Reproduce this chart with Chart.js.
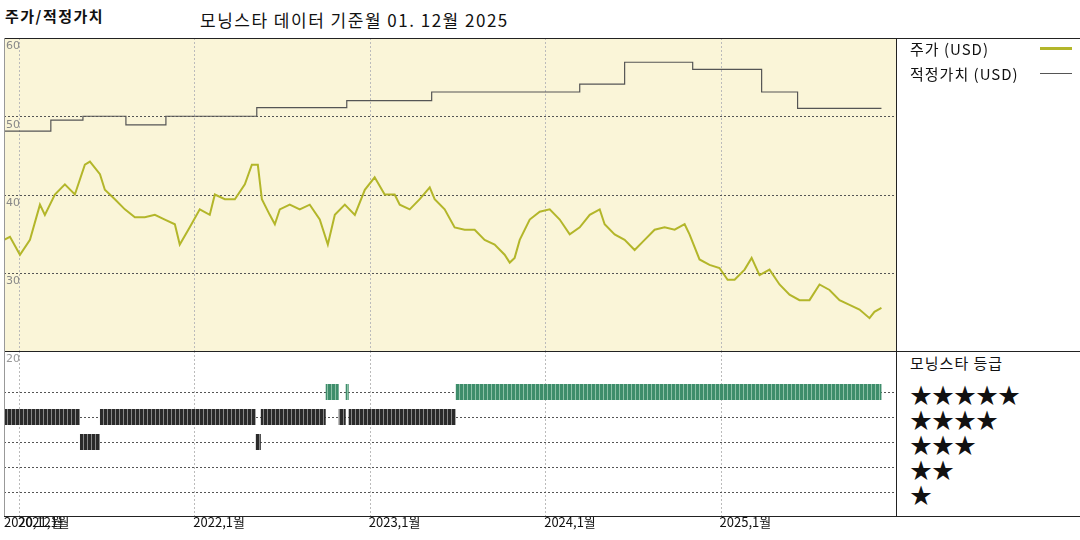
<!DOCTYPE html>
<html><head><meta charset="utf-8">
<script src="https://cdn.jsdelivr.net/npm/chart.js@4"></script>
<style>
body{margin:0;width:1080px;height:540px;background:#fff;position:relative;overflow:hidden;font-family:"Noto Sans CJK KR",sans-serif;}
.t{position:absolute;white-space:nowrap;color:#111;}
#a{position:absolute;left:4px;top:38px;width:892px;height:313px;}
#b{position:absolute;left:4px;top:351px;width:892px;height:189px;}
.ln{position:absolute;background:#222;}
</style></head><body>
<div class="t" style="left:5px;top:5px;font-size:15px;font-weight:bold;letter-spacing:1.5px;">주가/적정가치</div>
<div class="t" style="left:200px;top:7px;font-size:17px;letter-spacing:1.5px;">모닝스타 데이터 기준월 01. 12월 2025</div>
<div id="a"><canvas id="ca"></canvas></div>
<div id="b"><canvas id="cb"></canvas></div>
<div class="ln" style="left:4px;top:38px;width:1076px;height:1px;"></div>
<div class="ln" style="left:4px;top:351px;width:1076px;height:1px;"></div>
<div class="ln" style="left:4px;top:516px;width:1076px;height:1px;"></div>
<div class="ln" style="left:896px;top:38px;width:1px;height:478px;"></div>
<div class="ln" style="left:4px;top:38px;width:1px;height:478px;background:#999"></div>
<div class="t" style="left:910px;top:38px;font-size:15px;letter-spacing:1px;">주가 (USD)</div>
<div class="ln" style="left:1040px;top:47px;width:32px;height:3px;background:#b3b62a"></div>
<div class="t" style="left:910px;top:63px;font-size:15px;letter-spacing:1px;">적정가치 (USD)</div>
<div class="ln" style="left:1040px;top:73px;width:32px;height:1px;background:#555"></div>
<div class="t" style="left:910px;top:352px;font-size:15px;letter-spacing:1px;">모닝스타 등급</div>
<div class="t" style="left:910px;top:377px;font-size:22px;">★★★★★</div>
<div class="t" style="left:910px;top:402px;font-size:22px;">★★★★</div>
<div class="t" style="left:910px;top:427px;font-size:22px;">★★★</div>
<div class="t" style="left:910px;top:452px;font-size:22px;">★★</div>
<div class="t" style="left:910px;top:477px;font-size:22px;">★</div>
<script>
const priceDates=[2020.915,2020.949,2021.006,2021.063,2021.12,2021.148,2021.205,2021.262,2021.319,2021.376,2021.405,2021.462,2021.49,2021.547,2021.604,2021.661,2021.718,2021.775,2021.832,2021.889,2021.917,2021.974,2022.031,2022.088,2022.117,2022.174,2022.231,2022.288,2022.328,2022.362,2022.385,2022.43,2022.459,2022.487,2022.544,2022.601,2022.658,2022.715,2022.761,2022.801,2022.858,2022.915,2022.972,2023.028,2023.085,2023.142,2023.171,2023.228,2023.285,2023.342,2023.37,2023.427,2023.484,2023.541,2023.598,2023.655,2023.712,2023.769,2023.798,2023.826,2023.855,2023.912,2023.969,2024.026,2024.083,2024.14,2024.197,2024.254,2024.311,2024.339,2024.396,2024.453,2024.51,2024.567,2024.624,2024.681,2024.738,2024.795,2024.823,2024.88,2024.937,2024.994,2025.04,2025.08,2025.137,2025.177,2025.222,2025.279,2025.336,2025.393,2025.45,2025.507,2025.564,2025.621,2025.678,2025.735,2025.792,2025.849,2025.877,2025.917];
const priceValues=[34.2,34.6,32.3,34.2,38.7,37.4,40,41.3,40,43.8,44.2,42.6,40.6,39.4,38.1,37.1,37.1,37.4,36.8,36.2,33.6,35.8,38.1,37.4,40,39.4,39.4,41.3,43.8,43.8,39.4,37.4,36.2,38.1,38.7,38.1,38.7,36.8,33.6,37.4,38.7,37.4,40.6,42.2,40,40,38.7,38.1,39.4,40.9,39.4,38.1,35.8,35.5,35.5,34.2,33.6,32.3,31.3,31.9,34.2,36.8,37.8,38.1,36.8,34.9,35.8,37.4,38.1,36.2,34.9,34.2,32.9,34.2,35.5,35.8,35.5,36.2,34.9,31.7,31,30.6,29.1,29.1,30.4,31.9,29.7,30.4,28.5,27.2,26.5,26.5,28.5,27.8,26.5,25.9,25.3,24.2,25,25.5];
const fairDates=[2020.915,2021.182,2021.365,2021.61,2021.838,2022.356,2022.869,2023.353,2024.197,2024.453,2024.841,2025.234,2025.439,2025.917];
const fairValues=[48.1,49.5,50,48.9,50,51.1,52,53.1,54.1,56.9,56,53.1,51,51];
// star-rating periods: [start, end, stars]
const ratingStart=[2020.915,2021.348,2021.462,2022.35,2022.379,2022.749,2022.823,2022.863,2022.88,2023.49];
const ratingEnd  =[2021.348,2021.462,2022.35,2022.379,2022.749,2022.823,2022.863,2022.88,2023.49,2025.917];
const ratingStars=[4,3,4,3,4,5,4,5,4,5];
const yTicks=[30,40,50,60];
const xTickYears=[2021,2022,2023,2024,2025];
const xTickLabels=["2021,1월","2022,1월","2023,1월","2024,1월","2025,1월"];

const XMIN=2020.915, XMAX=2026.0;
function pat(c1,c2){const p=document.createElement('canvas');p.width=4;p.height=4;const g=p.getContext('2d');g.fillStyle=c1;g.fillRect(0,0,4,4);g.fillStyle=c2;g.fillRect(3,0,1,4);return g.createPattern(p,'repeat');}
const gridPlugA={id:'ga',beforeDatasetsDraw(ch){const {ctx,chartArea:a,scales:{x,y}}=ch;ctx.save();
 ctx.fillStyle='#faf5d8';ctx.fillRect(a.left,a.top,a.right-a.left,a.bottom-a.top);
 ctx.setLineDash([2,2]);ctx.lineWidth=1;ctx.strokeStyle='#bbb';
 xTickYears.forEach(v=>{const px=Math.round(x.getPixelForValue(v))+.5;ctx.beginPath();ctx.moveTo(px,a.top);ctx.lineTo(px,a.bottom);ctx.stroke();});
 ctx.strokeStyle='#555';
 yTicks.forEach(v=>{const py=Math.round(y.getPixelForValue(v))+.5;ctx.beginPath();ctx.moveTo(a.left,py);ctx.lineTo(a.right,py);ctx.stroke();});
 ctx.setLineDash([]);ctx.fillStyle='#888';ctx.font='11px "DejaVu Sans"';ctx.textBaseline='top';
 yTicks.forEach(v=>ctx.fillText(String(v),a.left+2,y.getPixelForValue(v)+3));
 ctx.restore();}};
new Chart(document.getElementById('ca'),{type:'line',
 data:{datasets:[
  {data:priceDates.map((d,i)=>({x:d,y:priceValues[i]})),borderColor:'#b3b62a',borderWidth:2,pointRadius:0,tension:0},
  {data:fairDates.map((d,i)=>({x:d,y:fairValues[i]})),borderColor:'#555',borderWidth:1.2,pointRadius:0,stepped:true}]},
 options:{responsive:true,maintainAspectRatio:false,animation:false,layout:{padding:0},
  plugins:{legend:{display:false},tooltip:{enabled:false}},
  scales:{x:{type:'linear',min:XMIN,max:XMAX,display:false},y:{min:20,max:60,display:false}}},
 plugins:[gridPlugA]});

const gridPlugB={id:'gb',beforeDatasetsDraw(ch){const {ctx,chartArea:a,scales:{x,y}}=ch;ctx.save();
 ctx.setLineDash([2,2]);ctx.lineWidth=1;ctx.strokeStyle='#bbb';
 xTickYears.forEach(v=>{const px=Math.round(x.getPixelForValue(v))+.5;ctx.beginPath();ctx.moveTo(px,a.top);ctx.lineTo(px,a.bottom);ctx.stroke();});
 ctx.strokeStyle='#555';
 [1,2,3,4,5].forEach(v=>{const py=Math.round(y.getPixelForValue(v))+.5;ctx.beginPath();ctx.moveTo(a.left,py);ctx.lineTo(a.right,py);ctx.stroke();});
 ctx.setLineDash([]);ctx.fillStyle='#999';ctx.font='11px "DejaVu Sans"';ctx.textBaseline='top';ctx.fillText('20',a.left+2,a.top+3);
 ctx.restore();},
 afterDraw(ch){const {ctx,chartArea:a,scales:{x}}=ch;ctx.save();ctx.fillStyle='#111';ctx.font='13px "Noto Sans CJK KR"';ctx.textBaseline='top';
  ctx.fillText('2020,12월',0,a.bottom+0);
  xTickYears.forEach((v,i)=>ctx.fillText(xTickLabels[i],x.getPixelForValue(v)-1,a.bottom+0));ctx.restore();}};
const gPat=pat('#3e8d6b','#8cc0a6'), dPat=pat('#2a2a2a','#888');
const ratingSets=ratingStars.map((s,i)=>({data:[{x:ratingStart[i],y:s},{x:ratingEnd[i],y:s}],
 borderColor:s===5?gPat:dPat,borderWidth:16,borderCapStyle:'butt',pointRadius:0}));
new Chart(document.getElementById('cb'),{type:'line',data:{datasets:ratingSets},
 options:{responsive:true,maintainAspectRatio:false,animation:false,layout:{padding:{bottom:24}},
  plugins:{legend:{display:false},tooltip:{enabled:false}},
  scales:{x:{type:'linear',min:XMIN,max:XMAX,display:false},y:{min:0.04,max:6.64,display:false}}},
 plugins:[gridPlugB]});
</script></body></html>
